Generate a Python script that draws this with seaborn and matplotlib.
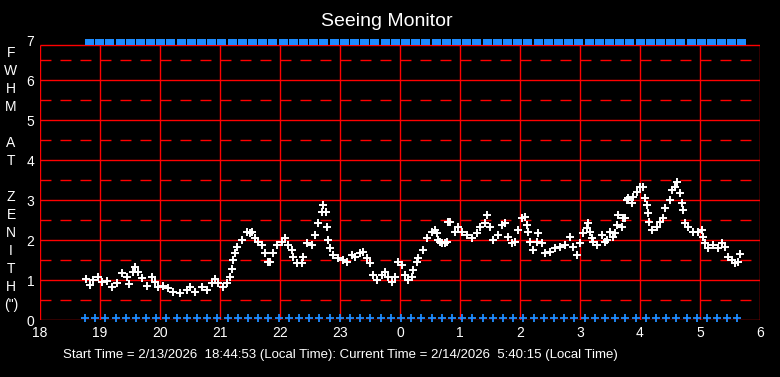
import seaborn as sns
import matplotlib.pyplot as plt
import numpy as np

# seeing data, minutes after 18:00 local time and FWHM at zenith (arcsec)
fwhm_minutes = [46, 50, 53, 58, 62, 67, 72, 77, 82, 87, 89, 93, 95, 98, 102, 107, 112, 115, 118, 123,
                128, 133, 140, 147, 150, 155, 162, 167, 172, 175, 178, 183, 187, 190, 192, 193, 195, 197, 202, 207,
                210, 212, 215, 218, 222, 225, 228, 230, 233, 237, 242, 245, 248, 252, 253, 257, 262, 263, 267, 272,
                275, 278, 282, 283, 286, 287, 288, 290, 293, 298, 303, 307, 312, 315, 320, 323, 327, 330, 333, 337,
                342, 345, 348, 352, 355, 358, 362, 365, 368, 372, 373, 377, 378, 383, 387, 392, 395, 397, 398, 400,
                402, 405, 407, 408, 410, 415, 418, 422, 427, 432, 437, 440, 445, 447, 450, 453, 458, 462, 465, 468,
                472, 475, 478, 482, 485, 487, 488, 490, 493, 497, 498, 502, 505, 510, 515, 520, 525, 530, 533, 537,
                540, 543, 547, 548, 550, 552, 553, 557, 562, 565, 567, 570, 573, 575, 577, 578, 582, 583, 585, 587,
                588, 592, 593, 597, 600, 603, 605, 607, 608, 609, 612, 617, 620, 623, 625, 630, 632, 635, 637, 640,
                642, 643, 645, 648, 653, 658, 662, 663, 665, 668, 673, 678, 682, 685, 688, 692, 695, 698, 700]
fwhm_values = [1.03, 0.88, 1.0, 1.08, 0.95, 0.98, 0.83, 0.93, 1.17, 1.08, 0.9, 1.2, 1.32, 1.2, 1.05, 0.85, 1.08, 0.95, 0.83, 0.85,
               0.8, 0.7, 0.67, 0.75, 0.83, 0.7, 0.82, 0.75, 0.92, 1.02, 0.92, 0.82, 0.92, 1.08, 1.27, 1.5, 1.67, 1.83, 2.0, 2.2,
               2.17, 2.2, 2.05, 1.95, 1.87, 1.67, 1.45, 1.45, 1.67, 1.87, 1.95, 2.05, 1.87, 1.75, 1.58, 1.42, 1.42, 1.58, 1.92, 1.87,
               2.12, 2.42, 2.7, 2.87, 2.7, 2.33, 2.0, 1.8, 1.62, 1.55, 1.5, 1.45, 1.62, 1.58, 1.67, 1.7, 1.55, 1.42, 1.12, 1.0,
               1.12, 1.2, 1.08, 0.95, 1.08, 1.45, 1.38, 1.12, 1.0, 1.08, 1.25, 1.45, 1.55, 1.75, 2.05, 2.2, 2.25, 2.17, 2.0, 1.95,
               1.92, 1.92, 1.95, 2.45, 2.45, 2.2, 2.33, 2.2, 2.12, 2.05, 2.17, 2.33, 2.42, 2.62, 2.33, 2.0, 2.12, 2.37, 2.42, 2.08,
               1.92, 1.95, 2.25, 2.55, 2.58, 2.37, 2.2, 1.95, 1.75, 1.95, 2.17, 1.92, 1.67, 1.7, 1.8, 1.83, 1.87, 2.08, 1.83, 1.62,
               1.92, 2.17, 2.3, 2.42, 2.2, 2.05, 1.95, 1.87, 2.12, 1.95, 2.0, 2.2, 2.08, 2.17, 2.37, 2.62, 2.33, 2.55, 2.55, 3.0,
               3.05, 2.92, 3.08, 3.2, 3.33, 3.33, 3.05, 2.87, 2.67, 2.45, 2.25, 2.33, 2.45, 2.55, 2.8, 3.0, 3.25, 3.33, 3.45, 3.17,
               2.92, 2.75, 2.42, 2.33, 2.2, 2.2, 2.25, 2.08, 1.92, 1.8, 1.87, 1.8, 1.92, 1.83, 1.58, 1.5, 1.42, 1.45, 1.65]

# status markers (blue), minutes after 18:00
status_minutes = [45, 55, 65, 76, 86, 96, 106, 116, 126, 137, 147, 157, 167, 177, 188, 198, 208, 218, 228, 239,
                  249, 259, 269, 279, 290, 300, 310, 320, 330, 341, 351, 361, 371, 381, 392, 402, 412, 422, 432, 443,
                  453, 463, 473, 483, 494, 504, 514, 524, 534, 545, 555, 565, 575, 585, 596, 606, 616, 626, 636, 647,
                  657, 667, 677, 687, 697]

hour_ticks = list(range(18, 31))
hour_labels = [str(h % 24) for h in hour_ticks]
ylabel_letters = ['F', 'W', 'H', 'M', '', 'A', 'T', '', 'Z', 'E', 'N', 'I', 'T', 'H', '(")']

title = "Seeing Monitor"
footer = "Start Time = 2/13/2026  18:44:53 (Local Time): Current Time = 2/14/2026  5:40:15 (Local Time)"

sns.set_style("dark", {"axes.facecolor": "black", "figure.facecolor": "black"})
plt.rcParams['font.family'] = ['Liberation Sans', 'DejaVu Sans']
plt.rcParams['lines.scale_dashes'] = False

fig = plt.figure(figsize=(7.8, 3.77), dpi=100)
fig.patch.set_facecolor("black")
ax = fig.add_axes([40/780, 57/377, 720/780, 280/377])
ax.set_facecolor("black")

red = "#ff0000"
top = 6.875
for y in range(1, 7):
    ax.axhline(y, color=red, lw=1.0, zorder=1)
for y in np.arange(0.5, 7, 1.0):
    ax.axhline(y, color=red, lw=1.0, dashes=(7.9, 6.5), zorder=1)
ax.vlines(hour_ticks, 0, top, color=red, lw=1.0, zorder=1)
ax.hlines([0, top], 18, 30, color=red, lw=1.0, zorder=1)

t_hours = 18 + np.array(fwhm_minutes) / 60.0
s_hours = 18 + np.array(status_minutes) / 60.0

sns.scatterplot(x=t_hours, y=fwhm_values, marker='+', color='white', s=38, linewidth=1.4, ax=ax, zorder=3)
ax.plot(s_hours, [0.05] * len(s_hours), linestyle='none', marker='+', color='#1e8cff',
        markersize=6, markeredgewidth=1.3, clip_on=False, zorder=4)
sq = [(0, -0.3), (1, -0.3), (1, 0.3), (0, 0.3), (0, -0.3)]
ax.plot(s_hours, [6.94] * len(s_hours), linestyle='none', marker=sq, color='#1e8cff',
        markersize=13.5, markeredgewidth=0, clip_on=False, zorder=4)

ax.set_xlim(18, 30)
ax.set_ylim(0, 7)
ax.set_xticks(hour_ticks)
ax.set_xticklabels(hour_labels)
ax.set_yticks(range(0, 8))
ax.tick_params(colors='white', labelsize=10, length=0)
ax.tick_params(axis='x', pad=4)
ax.tick_params(axis='y', pad=4)
for sp in ax.spines.values():
    sp.set_visible(False)
ax.grid(False)

fig.text(387/780, 1 - 22/377, title, color='white', fontsize=14, ha='center', va='center')
fig.text(340/780, 1 - 355/377, footer, color='white', fontsize=9.5, ha='center', va='center')
for i, letter in enumerate(ylabel_letters):
    fig.text(11/780, 1 - (53 + 18*i)/377, letter, color='white', fontsize=10, ha='center', va='center')

fig.savefig("out.png", dpi=100, facecolor="black")
